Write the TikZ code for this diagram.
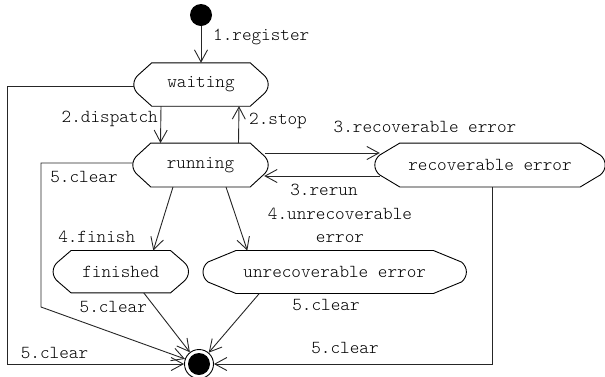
\documentclass[tikz,border=0pt]{standalone}
\usetikzlibrary{arrows.meta,calc}

% typewriter face used for all state names and transition labels
\newcommand\statefont{\fontsize{18.3}{23}\selectfont\ttfamily\fontseries{l}\selectfont}

% outline of a state: flat top and bottom, chamfered corners, rounded sides
\newcommand\stateoutline[2]{%
  \path ($(#1.north west)+(#2,0)$) coordinate (#1-tl)
        ($(#1.north east)-(#2,0)$) coordinate (#1-tr)
        ($(#1.south east)-(#2,0)$) coordinate (#1-br)
        ($(#1.south west)+(#2,0)$) coordinate (#1-bl)
        ($(#1.east)+(-5,-10)$) coordinate (#1-ea)
        ($(#1.east)+(-5,10)$) coordinate (#1-eb)
        ($(#1.west)+(5,10)$) coordinate (#1-wb)
        ($(#1.west)+(5,-10)$) coordinate (#1-wa);
  \draw[outline] (#1-tl) -- (#1-tr) -- (#1-ea)
       .. controls ($(#1-ea)+(3.1,2.4)$) and ($(#1.east)+(0,-3.9)$) .. (#1.east)
       .. controls ($(#1.east)+(0,3.9)$) and ($(#1-eb)+(3.1,-2.4)$) .. (#1-eb)
    -- (#1-br) -- (#1-bl) -- (#1-wb)
       .. controls ($(#1-wb)+(-3.1,-2.4)$) and ($(#1.west)+(0,3.9)$) .. (#1.west)
       .. controls ($(#1.west)+(0,-3.9)$) and ($(#1-wa)+(-3.1,2.4)$) .. (#1-wa)
    -- cycle;}

\tikzset{
  statebox/.style={draw=none, rectangle, inner sep=0pt, minimum height=43pt, font=\statefont},
  outline/.style={draw=black, line width=0.9pt},
  flow/.style={draw=black!85, line width=0.9pt, -{Straight Barb[length=12pt,width=13pt]}},
  lbl/.style={font=\statefont, inner sep=0pt},
}

\begin{document}
\begin{tikzpicture}[x=1pt, y=-1pt]
\useasboundingbox (0,0) rectangle (605,376);

% states
\node[statebox, minimum width=134pt] (waiting) at (201,84.5) {waiting};
\node[statebox, minimum width=135pt, minimum height=43.5pt] (running) at (200.5,165) {running};
\node[statebox, minimum width=230pt, minimum height=43.5pt] (recov) at (490,165) {recoverable error};
\node[statebox, minimum width=135pt, minimum height=42pt] (finished) at (120.8,271.7) {finished};
\node[statebox, minimum width=263pt, minimum height=42.6pt] (unrec) at (334.7,272) {unrecoverable error};

\stateoutline{waiting}{18}
\stateoutline{running}{18}
\stateoutline{recov}{25}
\stateoutline{finished}{18}
\stateoutline{unrec}{33}

% pseudo states
\node[circle, fill=black, minimum size=22pt, inner sep=0pt] (init) at (201,15) {};
\node[circle, draw=black, line width=0.9pt, fill=white, minimum size=29pt, inner sep=0pt] (final) at (199,364) {};
\fill[black] (final.center) circle (11pt);

% bends of the clear transitions
\coordinate (lbend) at (41,307);
\coordinate (obend) at (7.5,364);

% transitions
\draw[flow] (init) -- (waiting.north);
\draw[flow] ([xshift=-40pt]waiting.south) -- ([xshift=-40pt]running.north);
\draw[flow] ([xshift=38pt]running.north) -- ([xshift=38pt]waiting.south);
\draw[flow] ([xshift=-3pt,yshift=12pt]running.east) -- ([xshift=5pt,yshift=12pt]recov.west);
\draw[flow] ([xshift=5pt,yshift=-11pt]recov.west) -- ([xshift=-4pt,yshift=-11pt]running.east);
\draw[flow] ([xshift=-27.5pt]running.south) -- ([xshift=32.5pt]finished.north);
\draw[flow] ([xshift=25.5pt]running.south) -- ([xshift=-87.4pt]unrec.north);
\draw[flow] ([xshift=23pt]finished.south) -- (final);
\draw[flow] ([xshift=-75.4pt]unrec.south) -- (final);
\draw[flow] ([xshift=2.7pt]recov.south) |- (final);
\draw[flow] ([yshift=2pt]running.west) -| (lbend) -- (final);
\draw[flow] ([yshift=-1.5pt]waiting.west) -| (obend) -- (final);

% transition labels
\node[lbl, anchor=west] (l1) at (213,37) {1.register};
\node[lbl, anchor=east] (l2) at (158,119) {2.dispatch};
\node[lbl, anchor=west] (l3) at (249,121) {2.stop};
\node[lbl] (l4) at (425,127) {3.recoverable error};
\node[lbl] (l5) at (324,190) {3.rerun};
\node[lbl, align=center] (l6) at (340,225.5) {4.unrecoverable\\error};
\node[lbl] (l7) at (96.7,237.3) {4.finish};
\node[lbl] (l8) at (84,176.7) {5.clear};
\node[lbl] (l9) at (113.3,306.7) {5.clear};
\node[lbl] (l10) at (326,305) {5.clear};
\node[lbl] (l11) at (345,348.3) {5.clear};
\node[lbl] (l12) at (54.5,352.7) {5.clear};
\end{tikzpicture}
\end{document}
